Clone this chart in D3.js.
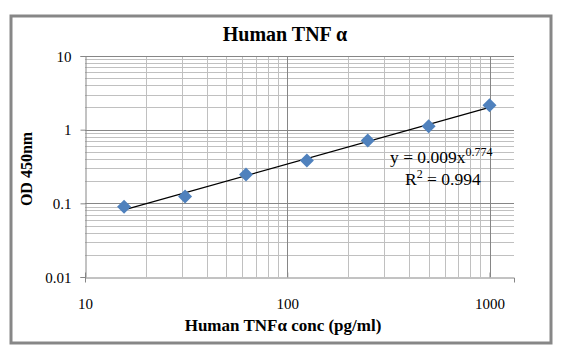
<!DOCTYPE html>
<html><head><meta charset="utf-8">
<script src="https://cdn.jsdelivr.net/npm/d3@7"></script>
<style>html,body{margin:0;padding:0;background:#fff;}</style>
</head><body>
<svg id="chart" width="565" height="358"></svg>
<script>
const concentrations = [15.6, 31.25, 62.5, 125, 250, 500, 1000];
const odValues = [0.09, 0.124, 0.247, 0.38, 0.71, 1.11, 2.15];
const xTickValues = [10, 100, 1000];
const yTickValues = [0.01, 0.1, 1, 10];
const yTickLabels = ["0.01", "0.1", "1", "10"];
const titleText = "Human TNF α";
const xTitle = "Human TNFα conc (pg/ml)";
const yTitle = "OD 450nm";
const eqCoef = "0.009", eqExp = "0.774", r2Text = "0.994";

const svg = d3.select("#chart");
const serif = "'Liberation Serif','DejaVu Serif',serif";

svg.append("rect").attr("x", 11).attr("y", 16).attr("width", 540).attr("height", 327)
  .attr("fill", "#fff").attr("stroke", "#878787").attr("stroke-width", 3);

const pL = 85, pR = 514, pT = 56, pB = 277;
const x = d3.scaleLog().domain([10, 10 ** (2 + (pR - 287) / 202.5)]).range([pL, pR]);
const y = d3.scaleLog().domain([0.01, 10]).range([pB, pT]);

// minor gridlines
const minorX = [], minorY = [];
[10, 100, 1000].forEach(d => { for (let k = 2; k <= 9; k++) if (d * k <= x.domain()[1]) minorX.push(d * k); });
[0.01, 0.1, 1].forEach(d => { for (let k = 2; k <= 9; k++) minorY.push(d * k); });
const g = svg.append("g");
g.selectAll(".mx").data(minorX).join("line")
  .attr("x1", d => Math.round(x(d)) + 0.5).attr("x2", d => Math.round(x(d)) + 0.5)
  .attr("y1", pT).attr("y2", pB).attr("stroke", "#c0c0c0").attr("stroke-width", 1);
g.selectAll(".my").data(minorY).join("line")
  .attr("y1", d => Math.round(y(d)) + 0.5).attr("y2", d => Math.round(y(d)) + 0.5)
  .attr("x1", pL).attr("x2", pR).attr("stroke", "#c0c0c0").attr("stroke-width", 1);
// major gridlines
g.selectAll(".Mx").data([100, 1000]).join("line")
  .attr("x1", d => Math.round(x(d)) + 0.5).attr("x2", d => Math.round(x(d)) + 0.5)
  .attr("y1", pT).attr("y2", pB).attr("stroke", "#868686");
g.selectAll(".My").data([0.1, 1, 10]).join("line")
  .attr("y1", d => Math.round(y(d)) + 0.5).attr("y2", d => Math.round(y(d)) + 0.5)
  .attr("x1", pL).attr("x2", pR).attr("stroke", "#868686");

// axes
const xAxis = d3.axisBottom(x).tickValues(xTickValues).tickSize(5).tickFormat(d3.format("d"));
const yAxis = d3.axisLeft(y).tickValues(yTickValues).tickSize(5).tickFormat((d, i) => yTickLabels[i]);
const gx = svg.append("g").attr("transform", `translate(0,${Math.round(pB) + 0.5})`).call(xAxis);
const gy = svg.append("g").attr("transform", `translate(${pL + 0.5},0)`).call(yAxis);
[gx, gy].forEach(a => {
  a.select(".domain").attr("stroke", "#868686");
  a.selectAll(".tick line").attr("stroke", "#868686");
  a.selectAll("text").attr("font-family", serif).attr("font-size", 15).attr("fill", "#000");
});
gx.selectAll(".tick line").attr("y1", -5).attr("y2", 0);
gx.selectAll("text").attr("dy", "0").attr("y", 31);
gy.selectAll("text").attr("x", -14).attr("dy", "0.35em");

// trendline (power fit by least squares in log-log)
const lx = concentrations.map(Math.log), ly = odValues.map(Math.log);
const mx = d3.mean(lx), my = d3.mean(ly);
const b = d3.sum(lx.map((v, i) => (v - mx) * (ly[i] - my))) / d3.sum(lx.map(v => (v - mx) ** 2));
const a = Math.exp(my - b * mx);
const trendX = [concentrations[0], concentrations[concentrations.length - 1]];
svg.append("line")
  .attr("x1", x(trendX[0])).attr("y1", y(a * trendX[0] ** b))
  .attr("x2", x(trendX[1])).attr("y2", y(a * trendX[1] ** b))
  .attr("stroke", "#000").attr("stroke-width", 1.2);

// markers
svg.selectAll(".pt").data(concentrations).join("path")
  .attr("transform", (d, i) => `translate(${x(d)},${y(odValues[i])})`)
  .attr("d", "M0,-7L7,0L0,7L-7,0Z")
  .attr("fill", "#4f81bd");

// titles
svg.append("text").attr("x", 285).attr("y", 41).attr("text-anchor", "middle")
  .attr("font-family", serif).attr("font-weight", "bold").attr("font-size", 20).text(titleText);
svg.append("text").attr("x", 283).attr("y", 331).attr("text-anchor", "middle")
  .attr("font-family", serif).attr("font-weight", "bold").attr("font-size", 17).text(xTitle);
svg.append("text").attr("transform", "translate(32,169) rotate(-90)").attr("text-anchor", "middle")
  .attr("font-family", serif).attr("font-weight", "bold").attr("font-size", 16).text(yTitle);

// equation
const eq = svg.append("text").attr("x", 390).attr("y", 163)
  .attr("font-family", serif).attr("font-size", 17.5);
eq.append("tspan").text("y = " + eqCoef + "x");
eq.append("tspan").attr("dy", -7).attr("font-size", 12).text(eqExp);
const r2 = svg.append("text").attr("x", 405).attr("y", 185)
  .attr("font-family", serif).attr("font-size", 17.5);
r2.append("tspan").text("R");
r2.append("tspan").attr("dy", -7).attr("font-size", 12).text("2");
r2.append("tspan").attr("dy", 7).text(" = " + r2Text);
</script>
</body></html>
